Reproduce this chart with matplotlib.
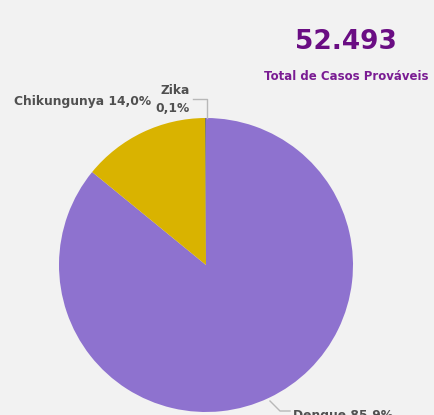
import matplotlib.pyplot as plt

# dados do grafico
doencas = ['Dengue', 'Chikungunya', 'Zika']
percentuais = [85.9, 14.0, 0.1]
cores = ['#8E72CF', '#D9B300', '#6B6B6B']
total_casos = '52.493'
subtitulo = 'Total de Casos Prováveis'

W, H = 434, 415
fig = plt.figure(figsize=(W / 100, H / 100), dpi=100, facecolor='#F2F2F2')
ax = fig.add_axes([0, 0, 1, 1])
ax.set_facecolor('#F2F2F2')

# pizza desenhada em coordenadas de pixel (y para cima)
cx, cy, r = 206, H - 265, 147
ax.pie(percentuais, colors=cores, startangle=90, counterclock=False,
       center=(cx, cy), radius=r, wedgeprops={'linewidth': 0})

ax.set_xlim(0, W)
ax.set_ylim(0, H)
ax.set_aspect('equal')
ax.axis('off')

cinza = '#505050'
linha = '#B8B8B8'

# rotulos com linhas guia
ax.plot([207, 207, 193], [H - 118, H - 99, H - 99], color=linha, lw=1)
ax.text(175, H - 91, doencas[2], ha='center', va='center', fontsize=8.8,
        fontweight='bold', color=cinza)
ax.text(173, H - 108, f'{percentuais[2]:.1f}%'.replace('.', ','), ha='center',
        va='center', fontsize=8.8, fontweight='bold', color=cinza)
ax.text(151, H - 102, f'{doencas[1]} {percentuais[1]:.1f}%'.replace('.', ','),
        ha='right', va='center', fontsize=8.8, fontweight='bold', color=cinza)
ax.plot([270, 280, 290], [H - 401, H - 411, H - 411], color=linha, lw=1)
ax.text(293, H - 415, f'{doencas[0]} {percentuais[0]:.1f}%'.replace('.', ','),
        ha='left', va='center', fontsize=8.8, fontweight='bold', color=cinza)

# cartao com total
ax.text(346, H - 42, total_casos, ha='center', va='center', fontsize=19,
        fontweight='bold', color='#6A0D83')
ax.text(346, H - 76, subtitulo, ha='center', va='center', fontsize=8.5,
        fontweight='bold', color='#7A1C93')

fig.savefig('out.png', dpi=100, facecolor=fig.get_facecolor())
